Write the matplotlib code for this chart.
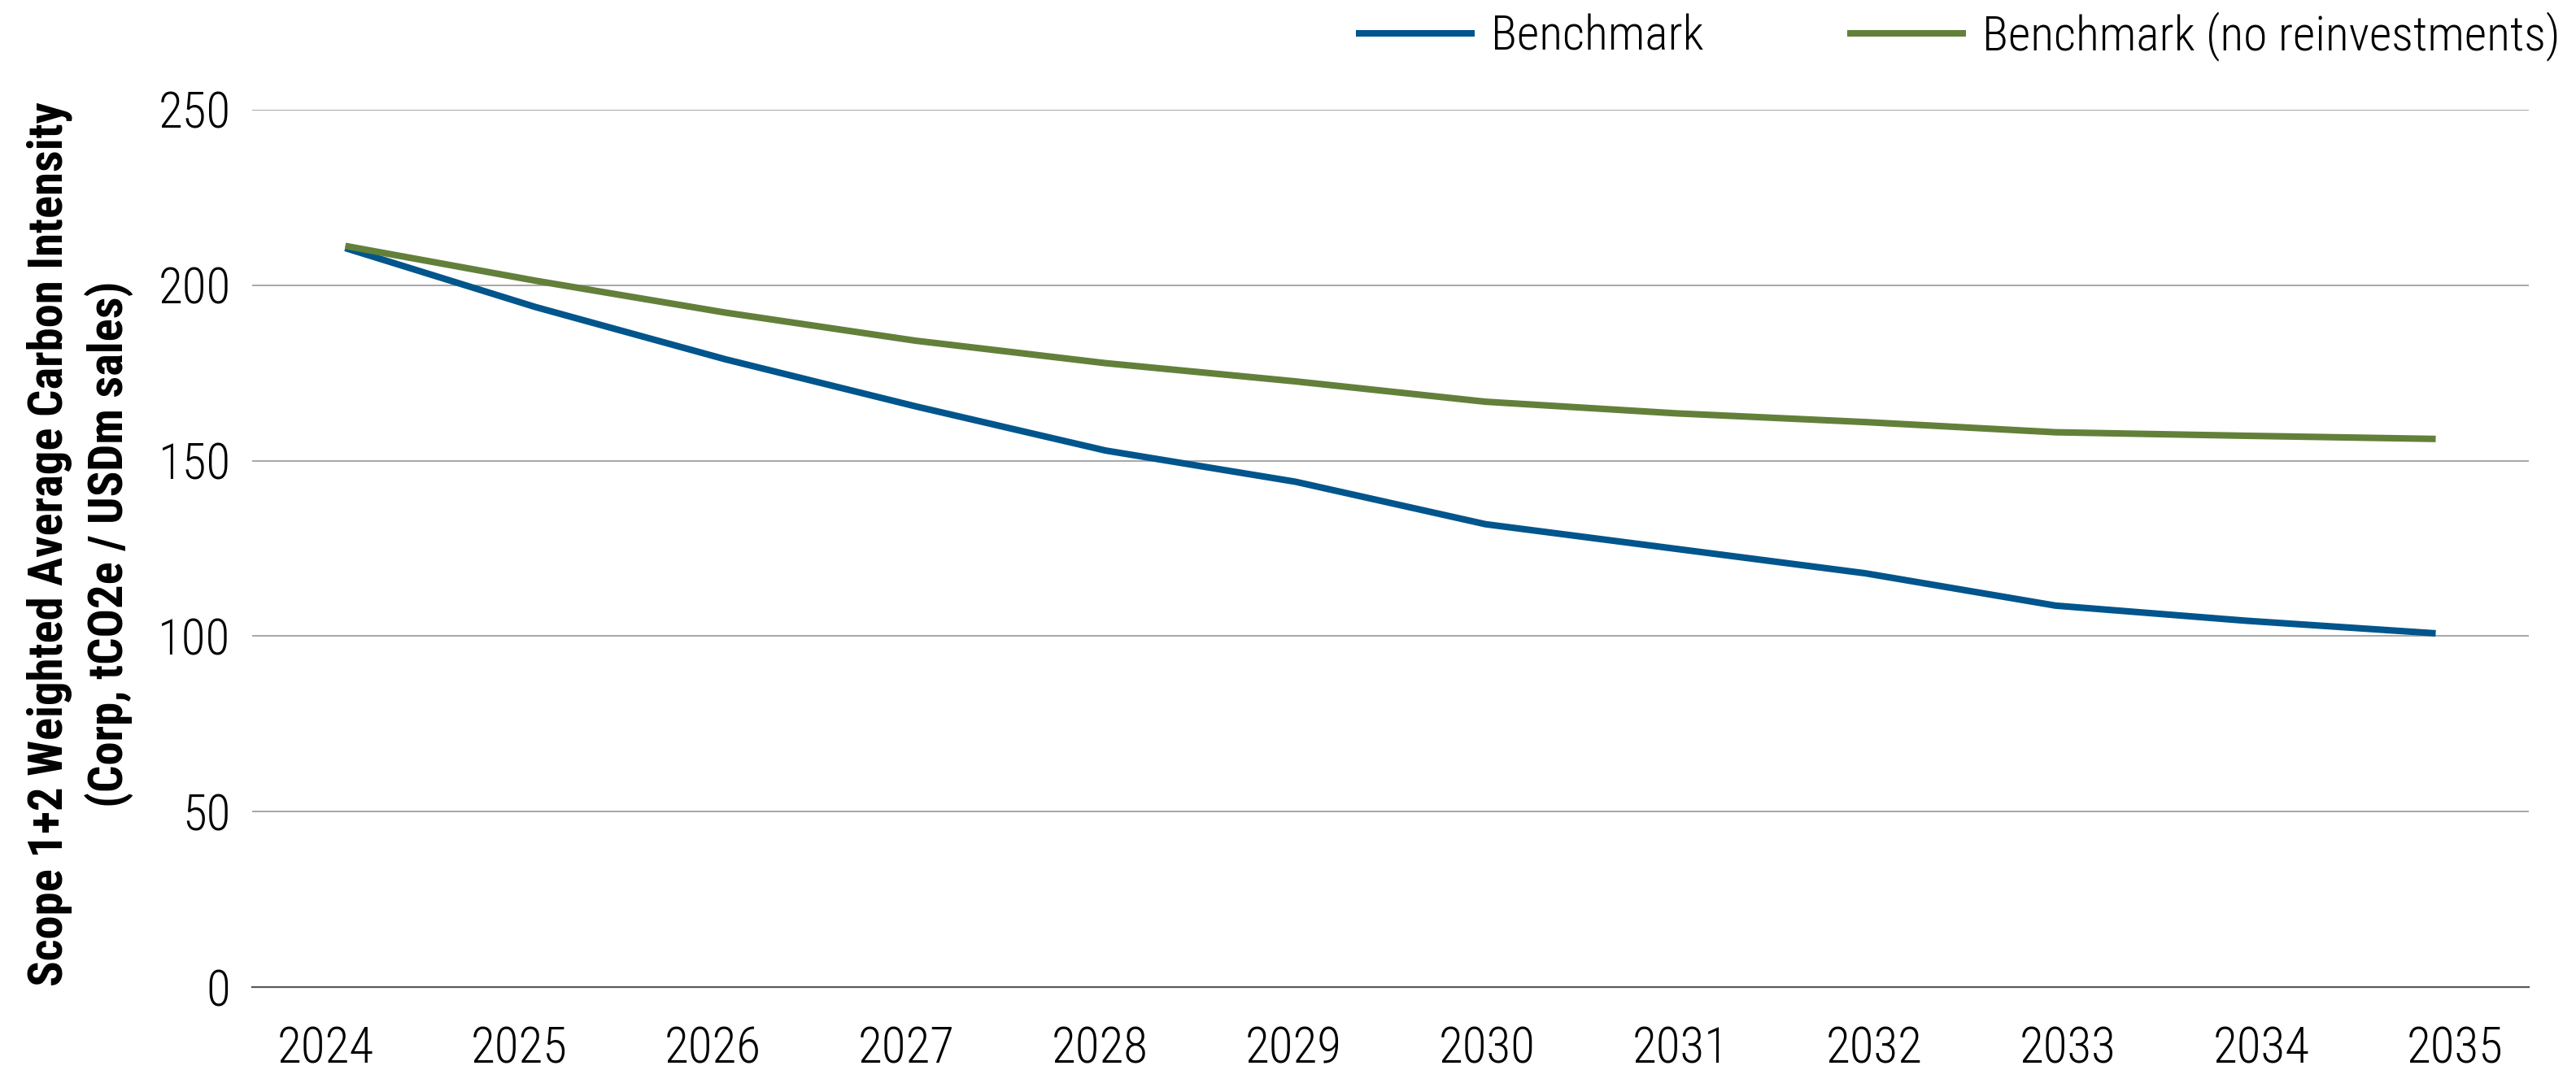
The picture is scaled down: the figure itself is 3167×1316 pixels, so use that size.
import matplotlib
matplotlib.use("Agg")
import matplotlib.pyplot as plt
from matplotlib import font_manager as fm

years = [2024, 2025, 2026, 2027, 2028, 2029, 2030, 2031, 2032, 2033, 2034, 2035]
benchmark = [210.6, 193.8, 178.9, 165.5, 152.9, 144.0, 131.9, 124.9, 117.9, 108.7, 104.4, 100.8]
benchmark_no_reinv = [211.2, 201.3, 192.2, 184.2, 177.8, 172.6, 166.8, 163.5, 161.0, 158.1, 157.1, 156.2]
yticks = [0, 50, 100, 150, 200, 250]
xtick_labels = [str(y) for y in years]
series_names = ["Benchmark", "Benchmark (no reinvestments)"]
ylabel_text = "Scope 1+2 Weighted Average Carbon Intensity\n(Corp, tCO2e / USDm sales)"


def has_font(name):
    try:
        fm.findfont(fm.FontProperties(family=name), fallback_to_default=False)
        return True
    except Exception:
        return False


font = "DejaVu Sans"
for cand in ["Roboto Condensed", "Archivo Narrow", "Liberation Sans Narrow", "Roboto"]:
    if has_font(cand):
        font = cand
        break

plt.rcParams["font.family"] = [font, "DejaVu Sans"]

W, H = 3167, 1316
fig = plt.figure(figsize=(W / 100, H / 100), dpi=100)
left, right = 310 / W, 3109 / W
bottom, top = 1 - 1214 / H, 1 - 135 / H
ax = fig.add_axes([left, bottom, right - left, top - bottom])

blue = "#00558C"
green = "#62803A"

ax.plot(years, benchmark, color=blue, lw=5.8, solid_capstyle="butt", solid_joinstyle="miter",
        label=series_names[0], zorder=3)
ax.plot(years, benchmark_no_reinv, color=green, lw=5.8, solid_capstyle="butt", solid_joinstyle="miter",
        label=series_names[1], zorder=3)

ax.set_xlim(years[0] - 0.49, years[-1] + 0.49)
ax.set_ylim(0, 250)
ax.set_yticks(yticks)

# category labels are spread slightly wider than the plotted points
mid = (years[0] + years[-1]) / 2
spread = 1.0187
ax.set_xticks([mid + (y - mid) * spread for y in years])
ax.set_xticklabels(xtick_labels)

ax.yaxis.grid(True, color="#A6A6A6", lw=1.4)
ax.set_axisbelow(True)
for s in ["top", "right", "left"]:
    ax.spines[s].set_visible(False)
ax.spines["bottom"].set_color("#595959")
ax.spines["bottom"].set_linewidth(1.6)
ax.spines["bottom"].set_zorder(2)
ax.tick_params(axis="both", length=0, labelsize=44, colors="black")
ax.tick_params(axis="x", pad=34)
ax.tick_params(axis="y", pad=19)
for lab in ax.get_xticklabels() + ax.get_yticklabels():
    lab.set_fontweight("light")

fig.text(99 / W, 1 - 669 / H, ylabel_text, rotation=90, ha="center", va="center",
         fontsize=42.2, fontweight="bold", linespacing=1.33, color="black")

leg = ax.legend(loc="center left", bbox_to_anchor=(1667 / W, 1 - 45 / H), bbox_transform=fig.transFigure,
                ncol=2, frameon=False, fontsize=43, handlelength=2.45, handletextpad=0.33,
                columnspacing=2.95, borderpad=0, borderaxespad=0)
for t in leg.get_texts():
    t.set_fontweight("light")
for h in leg.legend_handles:
    h.set_linewidth(5.8)

fig.savefig("out.png", dpi=100)
